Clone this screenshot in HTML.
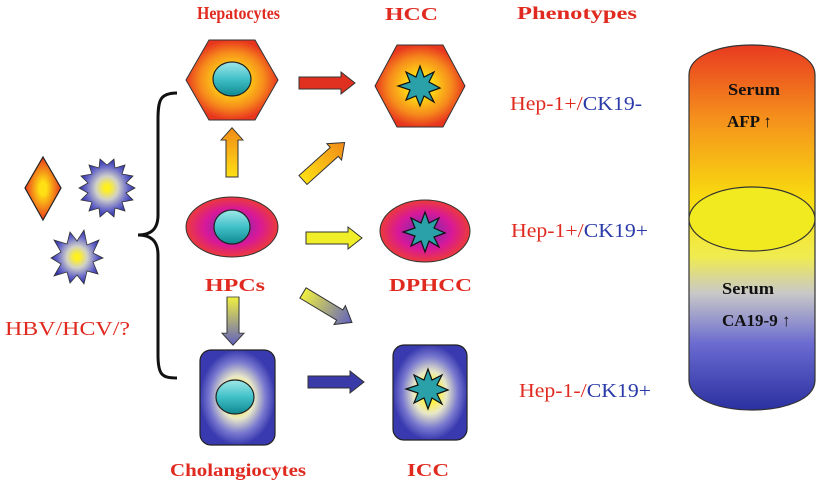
<!DOCTYPE html>
<html><head><meta charset="utf-8"><style>html,body{margin:0;padding:0;background:#fff;}svg{display:block}</style></head>
<body>
<svg width="820" height="483" viewBox="0 0 820 483" xmlns="http://www.w3.org/2000/svg" font-family="'Liberation Serif',serif" font-weight="bold">
<defs>
<radialGradient id="hex"><stop offset="0.25" stop-color="#ffe014"/><stop offset="0.7" stop-color="#f68a1c"/><stop offset="1" stop-color="#e8361e"/></radialGradient>
<radialGradient id="ell"><stop offset="0.2" stop-color="#8a2aa8"/><stop offset="0.6" stop-color="#d8189a"/><stop offset="1" stop-color="#ec3a3a"/></radialGradient>
<radialGradient id="sq"><stop offset="0.2" stop-color="#fff23a"/><stop offset="0.45" stop-color="#e8e8c8"/><stop offset="0.75" stop-color="#7a7ad0"/><stop offset="1" stop-color="#3a3ab0"/></radialGradient>
<radialGradient id="star"><stop offset="0.1" stop-color="#fff020"/><stop offset="0.4" stop-color="#d0d0c8"/><stop offset="0.75" stop-color="#6868c8"/><stop offset="1" stop-color="#3030a8"/></radialGradient>
<radialGradient id="dia"><stop offset="0.2" stop-color="#ffe014"/><stop offset="1" stop-color="#e8361e"/></radialGradient>
<linearGradient id="nuc" x1="0" y1="0" x2="0" y2="1"><stop offset="0" stop-color="#a0e8e8"/><stop offset="0.5" stop-color="#40c0c8"/><stop offset="1" stop-color="#108890"/></linearGradient>
<linearGradient id="cyl" x1="0" y1="0" x2="0" y2="1"><stop offset="0" stop-color="#e83a20"/><stop offset="0.2" stop-color="#f5901c"/><stop offset="0.42" stop-color="#f8dc10"/><stop offset="0.58" stop-color="#f0ec50"/><stop offset="0.68" stop-color="#c8c8c8"/><stop offset="0.82" stop-color="#6a6ad0"/><stop offset="1" stop-color="#2a30a0"/></linearGradient>
<linearGradient id="ay" x1="0" y1="0" x2="1" y2="0"><stop offset="0" stop-color="#ffe014"/><stop offset="1" stop-color="#f08a18"/></linearGradient>
<linearGradient id="ab" x1="0" y1="0" x2="1" y2="0"><stop offset="0" stop-color="#f0f040"/><stop offset="1" stop-color="#6060c0"/></linearGradient>
<g id="arr"><path d="M0,-6 L42,-6 L42,-11 L56,0 L42,11 L42,6 L0,6 Z" stroke="#333" stroke-width="1"/></g>
</defs>
<g fill="#e02a20" font-size="18">
<text x="197" y="19" textLength="83" lengthAdjust="spacingAndGlyphs">Hepatocytes</text>
<text x="385" y="20" textLength="53" lengthAdjust="spacingAndGlyphs">HCC</text>
<text x="517" y="19" textLength="120" lengthAdjust="spacingAndGlyphs">Phenotypes</text>
<text x="5" y="335" textLength="125" lengthAdjust="spacingAndGlyphs" font-weight="normal" font-size="20">HBV/HCV/?</text>
<text x="205" y="291" textLength="60" lengthAdjust="spacingAndGlyphs">HPCs</text>
<text x="389" y="291" textLength="83" lengthAdjust="spacingAndGlyphs">DPHCC</text>
<text x="170" y="476" textLength="136" lengthAdjust="spacingAndGlyphs">Cholangiocytes</text>
<text x="407" y="476" textLength="42" lengthAdjust="spacingAndGlyphs">ICC</text>
</g>
<g font-size="20" font-weight="normal">
<text x="510" y="110" textLength="132" lengthAdjust="spacingAndGlyphs"><tspan fill="#e02a20">Hep-1+/</tspan><tspan fill="#2a3aa8">CK19-</tspan></text>
<text x="511" y="237" textLength="137" lengthAdjust="spacingAndGlyphs"><tspan fill="#e02a20">Hep-1+/</tspan><tspan fill="#2a3aa8">CK19+</tspan></text>
<text x="519" y="397" textLength="132" lengthAdjust="spacingAndGlyphs"><tspan fill="#e02a20">Hep-1-/</tspan><tspan fill="#2a3aa8">CK19+</tspan></text>
</g>
<polygon points="43,157 61,188 43,220 25,188" fill="url(#dia)" stroke="#222" stroke-width="1.2"/>
<polygon fill="url(#star)" stroke="#333" stroke-width="0.8" points="135,188 126,193 133,200 122,202 125,211 115,208 114,217 107,211 100,217 99,208 89,211 92,202 81,200 88,193 79,188 88,183 81,176 92,174 89,165 99,168 100,159 107,165 114,159 115,168 125,165 122,174 133,176 126,183"/>
<polygon fill="url(#star)" stroke="#333" stroke-width="0.8" points="103,258 93,262 98,274 87,271 84,284 77,275 70,283 67,272 54,276 61,264 51,258 61,252 54,240 67,244 70,232 77,241 84,230 87,245 99,240 93,253"/>
<path d="M177,93 C160,93 158,100 158,120 L158,215 C158,230 150,235 138,235 C150,235 158,240 158,255 L158,355 C158,375 162,378 177,378" fill="none" stroke="#111" stroke-width="3"/>
<polygon points="186,80 209,40 255,40 278,80 255,120 209,120" fill="url(#hex)" stroke="#333" stroke-width="1"/>
<ellipse cx="232" cy="79" rx="19" ry="17" fill="url(#nuc)" stroke="#222" stroke-width="1.2"/>
<polygon points="375,86 397,45 443,45 465,86 443,127 397,127" fill="url(#hex)" stroke="#333" stroke-width="1"/>
<polygon fill="#2aa0a8" stroke="#111" stroke-width="1.2" points="440,88 429,92 434,102 424,96 420,106 416,96 406,100 410,90 398,86 410,82 406,72 416,77 420,66 424,77 434,72 429,82"/>
<ellipse cx="232" cy="227" rx="46" ry="30" fill="url(#ell)" stroke="#333" stroke-width="1"/>
<ellipse cx="232" cy="227" rx="18" ry="17" fill="url(#nuc)" stroke="#222" stroke-width="1.2"/>
<ellipse cx="425" cy="231" rx="45" ry="31" fill="url(#ell)" stroke="#333" stroke-width="1"/>
<polygon fill="#2aa0a8" stroke="#111" stroke-width="1.2" points="445,233 434,237 439,247 429,241 425,252 421,241 411,246 415,236 403,232 415,228 411,218 421,223 425,212 429,223 439,218 434,228"/>
<rect x="200" y="350" width="75" height="95" rx="11" fill="url(#sq)" stroke="#222" stroke-width="1.2"/>
<ellipse cx="235" cy="397" rx="19" ry="17" fill="url(#nuc)" stroke="#222" stroke-width="1.2"/>
<rect x="393" y="345" width="74" height="95" rx="11" fill="url(#sq)" stroke="#222" stroke-width="1.2"/>
<polygon fill="#2aa0a8" stroke="#111" stroke-width="1.2" points="448,390 437,394 442,404 432,398 428,409 424,398 414,403 418,393 406,389 418,385 414,375 424,380 428,369 432,380 442,375 437,385"/>
<use href="#arr" transform="translate(299,83)" fill="#e03020"/>
<use href="#arr" transform="translate(306,238)" fill="#f0ee28"/>
<use href="#arr" transform="translate(308,382)" fill="#3a3aa8"/>
<use href="#arr" transform="translate(232,177) rotate(-90) scale(0.88,1)" fill="url(#ay)"/>
<use href="#arr" transform="translate(303,180) rotate(-42)" fill="url(#ay)"/>
<use href="#arr" transform="translate(233,297) rotate(90) scale(0.86,1)" fill="url(#ab)"/>
<use href="#arr" transform="translate(303,293) rotate(31) scale(1.02,1)" fill="url(#ab)"/>
<path d="M689,75 C689,35 815,35 815,75 L815,380 C815,420 689,420 689,380 Z" fill="url(#cyl)" stroke="#333" stroke-width="1.2"/>
<ellipse cx="752" cy="219" rx="63" ry="32" fill="#f2ea20" stroke="#333" stroke-width="1.2"/>
<g font-size="17" fill="#111">
<text x="728" y="95" textLength="52" lengthAdjust="spacingAndGlyphs">Serum</text>
<text x="727" y="127">AFP ↑</text>
<text x="722" y="294" textLength="52" lengthAdjust="spacingAndGlyphs">Serum</text>
<text x="722" y="326">CA19-9 ↑</text>
</g>
</svg>
</body></html>
